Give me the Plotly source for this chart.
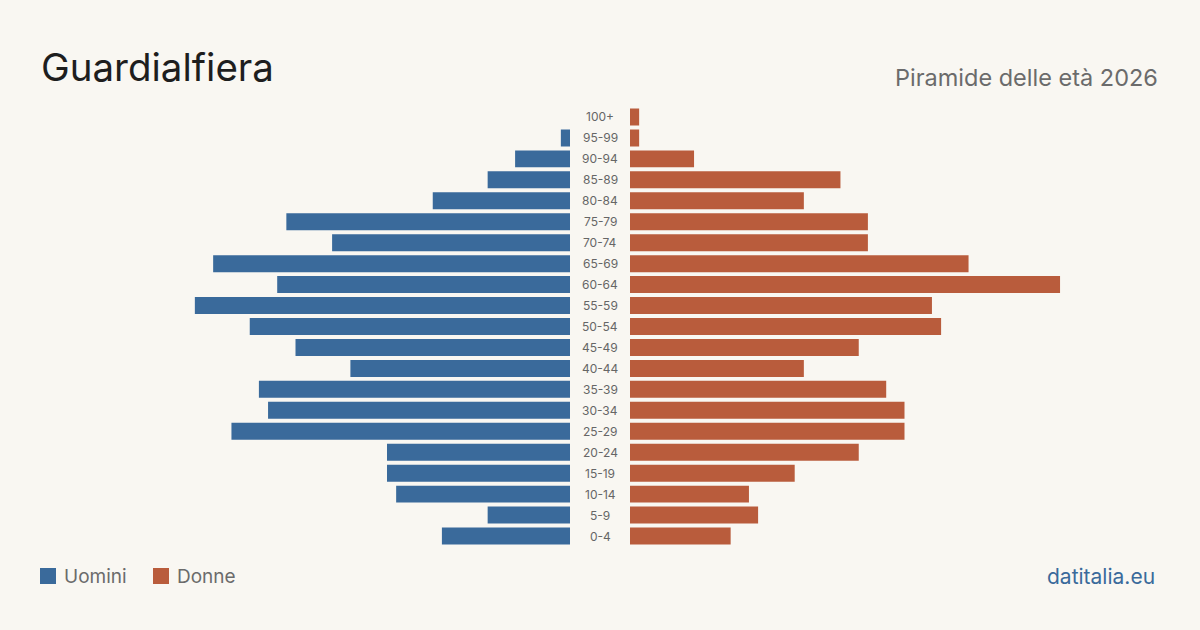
import plotly.graph_objects as go

ages = ["0-4", "5-9", "10-14", "15-19", "20-24", "25-29", "30-34", "35-39", "40-44",
        "45-49", "50-54", "55-59", "60-64", "65-69", "70-74", "75-79", "80-84",
        "85-89", "90-94", "95-99", "100+"]
uomini = [14, 9, 19, 20, 20, 37, 33, 34, 24, 30, 35, 41, 32, 39, 26, 31, 15, 9, 6, 1, 0]
donne = [11, 14, 13, 18, 25, 30, 30, 28, 19, 25, 34, 33, 47, 37, 26, 26, 19, 23, 7, 1, 1]

BLUE = "#3a6a9b"
RED = "#b95c3c"
BG = "#f9f7f2"
FONT = "Inter, Roboto, sans-serif"

W, H = 1200, 630
PX_PER_UNIT = 9.15
R = 570 / PX_PER_UNIT

fig = go.Figure()
fig.add_trace(go.Bar(y=ages, x=uomini, orientation="h", marker=dict(color=BLUE, line=dict(width=0)),
                     xaxis="x", yaxis="y", name="Uomini", showlegend=False,
                     hoverinfo="x+y"))
fig.add_trace(go.Bar(y=ages, x=donne, orientation="h", marker=dict(color=RED, line=dict(width=0)),
                     xaxis="x2", yaxis="y", name="Donne", showlegend=False,
                     hoverinfo="x+y"))

y_top = 106.5
y_bot = 546.5
ydom = [(H - y_bot) / H, (H - y_top) / H]

annotations = []
for a in ages:
    annotations.append(dict(x=0.5, xref="paper", y=a, yref="y", text=a,
                            showarrow=False, xanchor="center", yanchor="middle",
                            font=dict(size=12, color="#666666", family=FONT)))

annotations += [
    dict(x=39 / W, y=1 - 67 / H, xref="paper", yref="paper", text="Guardialfiera",
         showarrow=False, xanchor="left", yanchor="middle",
         font=dict(size=38.5, color="#1e1e1e", family=FONT)),
    dict(x=1160 / W, y=1 - 77 / H, xref="paper", yref="paper", text="Piramide delle età 2026",
         showarrow=False, xanchor="right", yanchor="middle",
         font=dict(size=23.5, color="#6b6b6b", family=FONT)),
    dict(x=62 / W, y=1 - 576 / H, xref="paper", yref="paper", text="Uomini",
         showarrow=False, xanchor="left", yanchor="middle",
         font=dict(size=19, color="#6b6b6b", family=FONT)),
    dict(x=175 / W, y=1 - 576 / H, xref="paper", yref="paper", text="Donne",
         showarrow=False, xanchor="left", yanchor="middle",
         font=dict(size=19, color="#6b6b6b", family=FONT)),
    dict(x=1157 / W, y=1 - 576 / H, xref="paper", yref="paper", text="datitalia.eu",
         showarrow=False, xanchor="right", yanchor="middle",
         font=dict(size=21, color=BLUE, family=FONT)),
]

shapes = [
    dict(type="rect", xref="paper", yref="paper", x0=40 / W, x1=56 / W,
         y0=1 - 584 / H, y1=1 - 568 / H, fillcolor=BLUE, line_width=0),
    dict(type="rect", xref="paper", yref="paper", x0=153 / W, x1=169 / W,
         y0=1 - 584 / H, y1=1 - 568 / H, fillcolor=RED, line_width=0),
]

fig.update_layout(
    width=W, height=H,
    margin=dict(l=0, r=0, t=0, b=0),
    paper_bgcolor=BG, plot_bgcolor=BG,
    bargap=0.19,
    xaxis=dict(domain=[0, 570 / W], range=[R, 0], visible=False, fixedrange=True),
    xaxis2=dict(domain=[630 / W, 1], range=[0, R], visible=False, fixedrange=True),
    yaxis=dict(domain=ydom, visible=False, categoryorder="array", categoryarray=ages,
               range=[-0.5, len(ages) - 0.5], fixedrange=True),
    annotations=annotations,
    shapes=shapes,
    font=dict(family=FONT),
)

fig.write_html("out.html")
